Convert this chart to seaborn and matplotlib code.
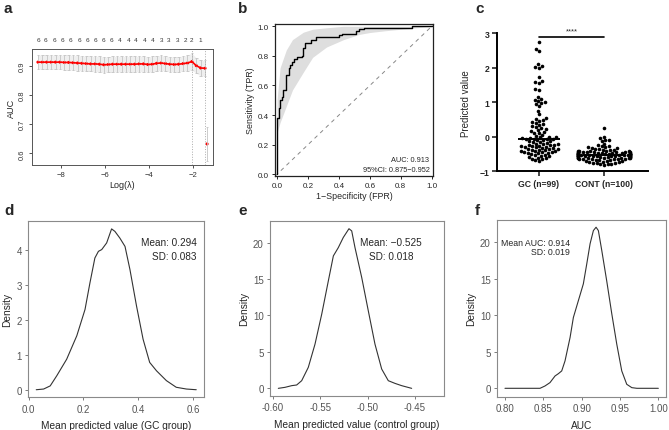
import numpy as np
import pandas as pd
import matplotlib
matplotlib.use("Agg")
import matplotlib.pyplot as plt
import seaborn as sns

# ---------------- data ----------------
# a: cross-validated AUC along the lasso path
log_lambda = [-9.05, -8.85, -8.65, -8.45, -8.25, -8.05, -7.85, -7.65, -7.45, -7.25,
              -7.05, -6.85, -6.65, -6.45, -6.25, -6.05, -5.85, -5.65, -5.45, -5.25,
              -5.05, -4.85, -4.65, -4.45, -4.25, -4.05, -3.85, -3.65, -3.45, -3.25,
              -3.05, -2.85, -2.65, -2.45, -2.25, -2.05, -1.85, -1.65, -1.45, -1.36]
auc_mean = [0.912, 0.912, 0.912, 0.912, 0.912, 0.912, 0.911, 0.911, 0.910, 0.909,
            0.908, 0.907, 0.906, 0.906, 0.905, 0.903, 0.904, 0.905, 0.905, 0.905,
            0.905, 0.905, 0.905, 0.906, 0.906, 0.904, 0.905, 0.908, 0.909, 0.907,
            0.905, 0.904, 0.905, 0.907, 0.909, 0.914, 0.900, 0.892, 0.891, 0.632]
auc_sd = [0.025, 0.025, 0.025, 0.025, 0.025, 0.025, 0.025, 0.026, 0.026, 0.026,
          0.026, 0.026, 0.026, 0.027, 0.027, 0.027, 0.027, 0.027, 0.027, 0.027,
          0.027, 0.027, 0.027, 0.027, 0.027, 0.027, 0.027, 0.026, 0.026, 0.026,
          0.026, 0.026, 0.026, 0.026, 0.027, 0.029, 0.026, 0.027, 0.027, 0.058]
lambda_min = -2.05
lambda_1se = -1.45
nonzero_pos = [-9.03, -8.70, -8.32, -7.94, -7.56, -7.18, -6.80, -6.42, -6.05, -5.70,
               -5.32, -4.94, -4.59, -4.21, -3.83, -3.45, -3.09, -2.71, -2.36, -2.06, -1.65]
nonzero_n = [6, 6, 6, 6, 6, 6, 6, 6, 6, 6, 4, 4, 4, 4, 4, 3, 3, 3, 2, 2, 1]

# b: ROC curve with 95% CI band
roc_fpr = [0, 0, 0.01, 0.01, 0.02, 0.02, 0.03, 0.03, 0.04, 0.04, 0.06, 0.06, 0.075, 0.075,
           0.085, 0.085, 0.095, 0.095, 0.11, 0.11, 0.13, 0.13, 0.16, 0.16, 0.17, 0.17,
           0.18, 0.18, 0.22, 0.22, 0.25, 0.25, 0.40, 0.40, 0.42, 0.42, 0.51, 0.51,
           0.53, 0.53, 0.56, 0.56, 0.87, 0.87, 1.0]
roc_tpr = [0, 0.38, 0.38, 0.45, 0.45, 0.50, 0.50, 0.52, 0.52, 0.57, 0.57, 0.67, 0.67, 0.72,
           0.72, 0.74, 0.74, 0.76, 0.76, 0.78, 0.78, 0.79, 0.79, 0.80, 0.80, 0.85,
           0.85, 0.89, 0.89, 0.91, 0.91, 0.93, 0.93, 0.94, 0.94, 0.95, 0.95, 0.97,
           0.97, 0.98, 0.98, 0.99, 0.99, 1.0, 1.0]
ci_fpr = [0.0, 0.02, 0.06, 0.10, 0.17, 0.23, 0.32, 0.43, 0.53, 0.60, 0.70, 0.80, 0.90, 1.0]
ci_lower = [0.28, 0.35, 0.46, 0.57, 0.69, 0.79, 0.86, 0.91, 0.945, 0.958, 0.97, 0.98, 0.99, 1.0]
ci_upper = [0.50, 0.72, 0.84, 0.91, 0.96, 0.98, 0.99, 1.0, 1.0, 1.0, 1.0, 1.0, 1.0, 1.0]

# c: predicted values per group
gc_pred = [2.75, 2.55, 2.50, 2.10, 2.05, 2.02, 1.98, 1.72, 1.62, 1.58, 1.55, 1.40, 1.37,
           1.15, 1.10, 1.07, 1.04, 1.00, 0.98, 0.95, 0.90, 0.75, 0.65, 0.55, 0.52, 0.50,
           0.47, 0.42, 0.40, 0.37, 0.34, 0.30, 0.28, 0.25, 0.22, 0.20, 0.18, 0.15, 0.12,
           0.10, 0.05, 0.03, 0.00, -0.01, -0.02, -0.03, -0.04, -0.05, -0.05, -0.06,
           -0.07, -0.08, -0.10, -0.12, -0.13, -0.15, -0.16, -0.18, -0.20, -0.21,
           -0.22, -0.23, -0.24, -0.25, -0.26, -0.27, -0.28, -0.29, -0.30, -0.31,
           -0.32, -0.33, -0.34, -0.35, -0.36, -0.37, -0.38, -0.39, -0.40, -0.41,
           -0.42, -0.43, -0.44, -0.45, -0.46, -0.47, -0.48, -0.50, -0.52, -0.53,
           -0.55, -0.56, -0.58, -0.60, -0.62, -0.63, -0.65, -0.68, -0.70]
cont_pred = [0.25, 0.00, -0.03, -0.08, -0.10, -0.12, -0.20, -0.25, -0.26, -0.28, -0.30,
             -0.30, -0.32, -0.33, -0.35, -0.36, -0.37, -0.38, -0.39, -0.40, -0.40, -0.41,
             -0.42, -0.42, -0.43, -0.43, -0.44, -0.44, -0.45, -0.45, -0.46, -0.46, -0.47,
             -0.47, -0.48, -0.48, -0.48, -0.49, -0.49, -0.50, -0.50, -0.50, -0.51, -0.51,
             -0.51, -0.52, -0.52, -0.52, -0.53, -0.53, -0.53, -0.54, -0.54, -0.54, -0.55,
             -0.55, -0.55, -0.56, -0.56, -0.56, -0.57, -0.57, -0.57, -0.58, -0.58, -0.58,
             -0.59, -0.59, -0.60, -0.60, -0.61, -0.61, -0.62, -0.62, -0.63, -0.63, -0.64,
             -0.64, -0.65, -0.65, -0.66, -0.67, -0.68, -0.69, -0.70, -0.71, -0.72, -0.73,
             -0.74, -0.75, -0.76, -0.77, -0.78, -0.79, -0.80, -0.82, -0.60, -0.55, -0.50,
             -0.45]
group_labels = ["GC (n=99)", "CONT (n=100)"]

# d, e, f: bootstrap density curves
d_x = [0.028, 0.055, 0.079, 0.103, 0.139, 0.176, 0.206, 0.224, 0.242, 0.255, 0.267, 0.285,
       0.303, 0.315, 0.333, 0.352, 0.370, 0.394, 0.418, 0.442, 0.467, 0.503, 0.539, 0.576, 0.612]
d_y = [0.0, 0.02, 0.11, 0.40, 0.87, 1.54, 2.29, 3.05, 3.76, 3.95, 4.0, 4.19, 4.59, 4.52,
       4.33, 4.09, 3.43, 2.39, 1.44, 0.78, 0.54, 0.26, 0.07, 0.02, 0.0]
e_x = [-0.5944, -0.5873, -0.5802, -0.575, -0.5697, -0.5627, -0.5556, -0.5485, -0.5415,
       -0.5362, -0.531, -0.5257, -0.5197, -0.5168, -0.5133, -0.5062, -0.4992, -0.4922,
       -0.4851, -0.4781, -0.471, -0.464, -0.4534]
e_y = [0.0, 0.14, 0.37, 0.46, 1.05, 2.88, 6.07, 10.18, 14.75, 18.17, 19.3, 20.7, 21.9, 21.6,
       19.3, 15.2, 10.6, 6.07, 2.65, 1.05, 0.68, 0.37, 0.0]
f_x = [0.800, 0.8457, 0.8522, 0.8587, 0.8653, 0.8696, 0.874, 0.8783, 0.8849, 0.8892, 0.8957,
       0.9022, 0.9066, 0.911, 0.9153, 0.9188, 0.9218, 0.9262, 0.9327, 0.9393, 0.9458, 0.9523,
       0.9588, 0.9654, 0.972, 1.0]
f_y = [0.0, 0.0, 0.32, 0.78, 1.69, 2.0, 2.38, 3.75, 6.96, 9.7, 12.0, 14.3, 17.0, 19.8, 21.6,
       22.06, 21.6, 18.9, 14.7, 10.2, 6.04, 2.38, 0.55, 0.09, 0.0, 0.0]

# ---------------- style ----------------
sns.set_style("ticks")
plt.rcParams['font.family'] = ['Liberation Sans', 'DejaVu Sans']

W, H = 669, 431
fig = plt.figure(figsize=(W / 100, H / 100), dpi=100)


def box(l, t, r, b):
    return fig.add_axes([l / W, 1 - b / H, (r - l) / W, (b - t) / H])


# ---------------- a ----------------
ax = box(32, 50, 213, 166)
lo = np.array(auc_mean) - np.array(auc_sd)
hi = np.array(auc_mean) + np.array(auc_sd)
ax.fill_between(log_lambda[:-1], lo[:-1], hi[:-1], color='#efefef', lw=0)
ax.vlines(log_lambda, lo, hi, color='#c4c4c4', lw=0.6)
ax.hlines(lo, np.array(log_lambda) - 0.06, np.array(log_lambda) + 0.06, color='#c4c4c4', lw=0.6)
ax.hlines(hi, np.array(log_lambda) - 0.06, np.array(log_lambda) + 0.06, color='#c4c4c4', lw=0.6)
ax.axvline(lambda_min, color='#aaaaaa', lw=0.7, ls=':')
ax.axvline(lambda_1se, color='#aaaaaa', lw=0.7, ls=':')
ax.plot(log_lambda[:-1], auc_mean[:-1], color='red', lw=1.2)
sns.scatterplot(x=log_lambda, y=auc_mean, color='red', s=5, edgecolor='none', ax=ax)
ax.set_xlim(-9.32, -1.09)
ax.set_ylim(0.56, 0.957)
ax.set_xticks([-8, -6, -4, -2])
ax.set_yticks([0.6, 0.7, 0.8, 0.9])
ax.set_yticklabels(['0.6', '0.7', '0.8', '0.9'], rotation=90, va='center')
ax.tick_params(labelsize=5.5, length=2.5, width=0.6, colors='#333333', pad=2)
for s in ax.spines.values():
    s.set_color('#555555')
    s.set_linewidth(0.7)
ax.set_xlabel('Log(λ)', fontsize=6.5, labelpad=1)
ax.set_ylabel('AUC', fontsize=6.5, labelpad=2)
for x, n in zip(nonzero_pos, nonzero_n):
    ax.text(x, 1.078, str(n), transform=ax.get_xaxis_transform(), ha='center', va='center',
            fontsize=4.6, color='#333333')

# ---------------- b ----------------
ax = box(275, 25, 433, 177)
ax.fill_between(ci_fpr, ci_lower, ci_upper, color='#dedede', lw=0)
ax.axline((0, 0), slope=1, color='#888888', lw=0.7, ls=(0, (4, 4)))
sns.lineplot(x=roc_fpr, y=roc_tpr, sort=False, estimator=None, color='black', lw=1.0, ax=ax)
ax.set_xlim(-0.013, 1.008)
ax.set_ylim(-0.0115, 1.0155)
ax.set_xticks([0, 0.2, 0.4, 0.6, 0.8, 1.0])
ax.set_yticks([0, 0.2, 0.4, 0.6, 0.8, 1.0])
ax.xaxis.set_major_formatter(plt.FormatStrFormatter('%.1f'))
ax.yaxis.set_major_formatter(plt.FormatStrFormatter('%.1f'))
ax.tick_params(labelsize=5.8, length=2.5, width=0.7, pad=2)
for s in ax.spines.values():
    s.set_color('#222222')
    s.set_linewidth(0.9)
ax.set_xlabel('1−Specificity (FPR)', fontsize=6.4, labelpad=1)
ax.set_ylabel('Sensitivity (TPR)', fontsize=6.4, labelpad=2)
ax.text(0.985, 0.10, 'AUC: 0.913', ha='right', va='center', fontsize=5.3)
ax.text(0.985, 0.035, '95%CI: 0.875−0.952', ha='right', va='center', fontsize=5.3)

# ---------------- c ----------------
ax = box(497, 34.3, 648, 172.3)
df_c = pd.DataFrame({
    'group': [group_labels[0]] * len(gc_pred) + [group_labels[1]] * len(cont_pred),
    'value': gc_pred + cont_pred,
})
sns.swarmplot(data=df_c, x='group', y='value', order=group_labels, color='black',
              size=2.6, ax=ax)
ax.hlines(np.median(gc_pred), -0.33, 0.33, color='black', lw=1.4, zorder=5)
ax.hlines(np.median(cont_pred), 0.67, 1.33, color='black', lw=1.4, zorder=5)
ax.plot([0, 1], [2.88, 2.88], color='black', lw=1.2, clip_on=False)
ax.text(0.5, 3.07, '****', ha='center', va='center', fontsize=5.5)
ax.set_xlim(-0.646, 1.677)
ax.set_ylim(-1, 3)
ax.set_yticks([-1, 0, 1, 2, 3])
sns.despine(ax=ax)
for s in ['left', 'bottom']:
    ax.spines[s].set_linewidth(1.4)
    ax.spines[s].set_color('black')
ax.tick_params(labelsize=6.2, length=3.5, width=1.2, pad=2)
for lab in ax.get_xticklabels() + ax.get_yticklabels():
    lab.set_fontweight('bold')
ax.set_xlabel('')
ax.set_ylabel('Predicted value', fontsize=7, labelpad=6)


# ---------------- d, e, f ----------------
def density_panel(ax, x, y, xlim, ylim, xticks, yticks, xfmt, xlabel):
    sns.lineplot(x=x, y=y, color='#333333', lw=0.8, ax=ax)
    ax.set_xlim(*xlim)
    ax.set_ylim(*ylim)
    ax.set_xticks(xticks)
    ax.set_yticks(yticks)
    ax.xaxis.set_major_formatter(plt.FormatStrFormatter(xfmt))
    ax.tick_params(labelsize=7, length=2.5, width=0.6, colors='#666666', labelcolor='#555555', pad=2)
    for s in ax.spines.values():
        s.set_color('#8a8a8a')
        s.set_linewidth(0.8)
    ax.set_xlabel(xlabel, fontsize=7.3, labelpad=5)
    ax.set_ylabel('Density', fontsize=7.3, labelpad=3)


ax = box(28.3, 221.7, 204, 398.3)
density_panel(ax, d_x, d_y, (-0.001, 0.6403), (-0.216, 4.824), [0, 0.2, 0.4, 0.6],
              [0, 1, 2, 3, 4], '%.1f', 'Mean predicted value (GC group)')
ax.text(0.6145, 4.21, 'Mean: 0.294', ha='right', va='center', fontsize=7.2)
ax.text(0.6145, 3.81, 'SD: 0.083', ha='right', va='center', fontsize=7.2)

ax = box(270, 221.7, 444, 397)
density_panel(ax, e_x, e_y, (-0.6032, -0.4192), (-1.05, 23.0), [-0.60, -0.55, -0.50, -0.45],
              [0, 5, 10, 15, 20], '%.2f', 'Mean predicted value (control group)')
ax.text(-0.4755, 20.1, 'Mean: −0.525', ha='center', va='center', fontsize=7.2)
ax.text(-0.4755, 18.1, 'SD: 0.018', ha='center', va='center', fontsize=7.2)

ax = box(497, 221, 666, 397.7)
density_panel(ax, f_x, f_y, (0.7896, 1.01), (-1.15, 23.05), [0.80, 0.85, 0.90, 0.95, 1.00],
              [0, 5, 10, 15, 20], '%.2f', 'AUC')
ax.text(0.885, 20.0, 'Mean AUC: 0.914', ha='right', va='center', fontsize=6.3)
ax.text(0.885, 18.7, 'SD: 0.019', ha='right', va='center', fontsize=6.3)

# ---------------- panel letters ----------------
for letter, x, y in [('a', 3, 13), ('b', 238, 13), ('c', 475, 13),
                     ('d', 4, 215), ('e', 238, 215), ('f', 475, 215)]:
    fig.text(x / W, 1 - y / H, letter, fontsize=11, fontweight='bold', va='baseline')

fig.savefig('out.png', dpi=100)
